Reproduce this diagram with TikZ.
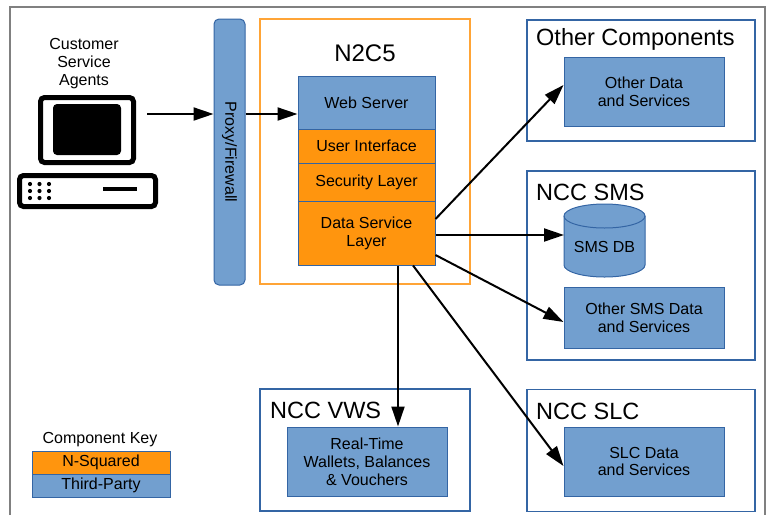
\documentclass[tikz,border=0pt]{standalone}
\usepackage{fontspec}
\setmainfont{Liberation Sans}
\usetikzlibrary{arrows.meta}
\definecolor{bluefill}{HTML}{729FCF}
\definecolor{blueline}{HTML}{3465A4}
\definecolor{orangefill}{HTML}{FF950E}
\definecolor{orangeframe}{HTML}{FFA436}
\definecolor{framegray}{HTML}{808080}
\tikzset{
  txt/.style={font=\fontsize{16}{17.8}\selectfont, align=center, inner sep=0pt},
  tp/.style={txt, fill=bluefill, draw=blueline, line width=1pt},
  ns/.style={txt, fill=orangefill, draw=blueline, line width=1pt},
  cont/.style={draw=blueline, line width=1.6pt, inner sep=0pt},
  ttl/.style={font=\fontsize{23.5}{27}\selectfont, anchor=west, inner sep=0pt},
  arr/.style={-{Triangle[length=20pt,width=13pt]}, line width=2pt},
}
\begin{document}
\begin{tikzpicture}[x=1pt,y=-1pt]
\useasboundingbox (0,0) rectangle (768,515);
% outer frame
\draw[framegray, line width=1.5pt] (10,515) -- (10,7) -- (765,7) -- (765,515);

% customer agents
\node[txt] (agents) at (84,63.5) {Customer\\Service\\Agents};
\node[draw, line width=5pt, rounded corners=4pt, minimum width=93pt, minimum height=65pt, inner sep=0pt] (monitor) at (87,130) {};
\node[fill=black, rounded corners=4pt, minimum width=68pt, minimum height=51pt, inner sep=0pt] (screen) at (87,129.5) {};
\node[draw, line width=5pt, rounded corners=4pt, minimum width=136pt, minimum height=31pt, inner sep=0pt] (base) at (87.5,191) {};
\foreach \dx in {30,39.5,49}{\foreach \dy in {184,191,198}{\fill (\dx,\dy) circle (2.1pt);}}
\draw[line width=4pt] (103,188.5) -- (137,188.5);

% proxy
\node[tp, rounded corners=5pt, minimum width=266pt, minimum height=31pt, rotate=-90] (proxy) at (229.5,152) {Proxy/Firewall};

% N2C5
\node[draw=orangeframe, line width=1.6pt, minimum width=210pt, minimum height=265pt, inner sep=0pt] (n2c5) at (365,151.5) {};
\node[font=\fontsize{24}{28}\selectfont, inner sep=0pt] (n2c5t) at (365,53) {N2C5};
\node[tp, minimum width=137pt, minimum height=53pt] (web) at (366.5,102.5) {Web Server};
\node[ns, minimum width=137pt, minimum height=34pt] (ui) at (366.5,146) {User Interface};
\node[ns, minimum width=137pt, minimum height=38pt] (sec) at (366.5,182) {Security Layer};
\node[ns, minimum width=137pt, minimum height=64pt] (dsl) at (366.5,233) {Data Service\\Layer};

% Other components
\node[cont, minimum width=228pt, minimum height=121pt] (ocbox) at (641,80.5) {};
\node[ttl] (oct) at (536,39.5) {Other Components};
\node[tp, minimum width=160pt, minimum height=69pt] (otherdata) at (644,91.5) {Other Data\\and Services};

% NCC SMS
\node[cont, minimum width=228pt, minimum height=189pt] (smsbox) at (641,265.5) {};
\node[ttl] (smst) at (536,192) {NCC SMS};
\path[fill=bluefill, draw=blueline, line width=1pt] (564,216) -- (564,265)
  arc[start angle=180, end angle=360, x radius=40.5pt, y radius=12pt] -- (645,216)
  arc[start angle=0, end angle=180, x radius=40.5pt, y radius=12pt] -- cycle;
\draw[blueline, line width=1pt] (564,216) arc[start angle=180, end angle=360, x radius=40.5pt, y radius=12pt];
\node[txt] (smsdb) at (604.5,247) {SMS DB};
\node[tp, minimum width=160pt, minimum height=61pt] (othersms) at (644,317.5) {Other SMS Data\\and Services};

% NCC SLC
\node[cont, minimum width=228pt, minimum height=122pt] (slcbox) at (641,450.5) {};
\node[ttl] (slct) at (536,411) {NCC SLC};
\node[tp, minimum width=160pt, minimum height=69pt] (slc) at (644,461.5) {SLC Data\\and Services};

% NCC VWS
\node[cont, minimum width=210pt, minimum height=122pt] (vwsbox) at (365,450) {};
\node[ttl] (vwst) at (270,410) {NCC VWS};
\node[tp, minimum width=160pt, minimum height=69pt] (vws) at (367,461.5) {Real-Time\\Wallets, Balances\\\& Vouchers};

% key
\node[txt] (keyt) at (100,439.5) {Component Key};
\node[ns, minimum width=138pt, minimum height=23pt] (keyns) at (101,462.5) {N-Squared};
\node[tp, minimum width=138pt, minimum height=23pt] (keytp) at (101,485.5) {Third-Party};

% helper coordinates
\coordinate (agentout) at (147,114);
\coordinate (y85) at (0,85);
\coordinate (y219) at (0,219);
\coordinate (y235) at (0,235);
\coordinate (y255) at (0,255);
\coordinate (y322) at (0,322);
\coordinate (y466) at (0,466);
\coordinate (vx) at (398,0);
\coordinate (sx) at (413,0);

% arrows
\draw[arr] (agentout) -- (agentout -| proxy.south);
\draw[arr] (agentout -| proxy.north) -- (agentout -| web.west);
\draw[arr] (dsl.east |- y219) -- (otherdata.west |- y85);
\draw[arr] (dsl.east |- y235) -- (564,235);
\draw[arr] (dsl.east |- y255) -- (othersms.west |- y322);
\draw[arr] (dsl.south -| vx) -- (vws.north -| vx);
\draw[arr] (dsl.south -| sx) -- (slc.west |- y466);
\end{tikzpicture}
\end{document}
